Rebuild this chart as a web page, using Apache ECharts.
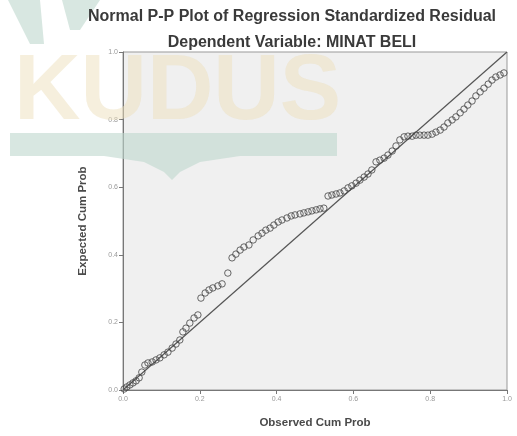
<!DOCTYPE html>
<html>
<head>
<meta charset="utf-8">
<script src="https://cdn.jsdelivr.net/npm/echarts@6/dist/echarts.min.js"></script>
<style>
html,body{margin:0;padding:0;background:#fff;}
#c{width:517px;height:436px;}
</style>
</head>
<body>
<div id="c"></div>
<script>
var titleText = 'Normal P-P Plot of Regression Standardized Residual';
var subtitleText = 'Dependent Variable: MINAT BELI';
var xName = 'Observed Cum Prob';
var yName = 'Expected Cum Prob';
var tickValues = [0.0, 0.2, 0.4, 0.6, 0.8, 1.0];

var observed = [0.003,0.010,0.018,0.026,0.034,0.042,0.049,0.057,0.065,0.076,0.086,0.096,0.107,0.117,0.128,0.138,0.148,0.156,0.164,0.174,0.185,0.195,0.203,0.214,0.224,0.234,0.247,0.258,0.273,0.284,0.294,0.305,0.315,0.328,0.339,0.352,0.362,0.372,0.383,0.393,0.404,0.414,0.427,0.438,0.448,0.461,0.471,0.482,0.492,0.503,0.513,0.523,0.534,0.544,0.555,0.565,0.576,0.586,0.596,0.607,0.617,0.628,0.638,0.648,0.659,0.669,0.680,0.690,0.701,0.711,0.721,0.732,0.742,0.753,0.763,0.773,0.784,0.794,0.805,0.815,0.826,0.836,0.846,0.857,0.867,0.878,0.888,0.898,0.909,0.919,0.930,0.940,0.951,0.961,0.971,0.982,0.992];
var expected = [0.003,0.009,0.015,0.021,0.027,0.036,0.053,0.074,0.080,0.083,0.089,0.095,0.104,0.112,0.124,0.136,0.148,0.172,0.183,0.198,0.213,0.222,0.272,0.287,0.296,0.302,0.308,0.314,0.346,0.391,0.402,0.414,0.423,0.429,0.444,0.456,0.464,0.473,0.479,0.488,0.497,0.503,0.509,0.515,0.518,0.521,0.524,0.527,0.530,0.533,0.536,0.538,0.574,0.577,0.580,0.583,0.589,0.598,0.604,0.612,0.621,0.630,0.639,0.651,0.675,0.680,0.686,0.695,0.707,0.722,0.740,0.749,0.751,0.751,0.754,0.754,0.754,0.754,0.757,0.763,0.769,0.778,0.790,0.799,0.808,0.820,0.831,0.843,0.855,0.870,0.882,0.893,0.905,0.917,0.926,0.932,0.938];
var refLine = [[0,0],[1,1]];

var points = observed.map(function(v,i){return [v, expected[i]];});

var chart = echarts.init(document.getElementById('c'), null, {renderer:'canvas'});
var font = '"Liberation Sans", Arial, sans-serif';
var option = {
  animation:false,
  backgroundColor:'#ffffff',
  title:[
    {text:titleText, left:287, top:4, textAlign:'center',
     textStyle:{fontFamily:font, fontSize:16, fontWeight:'bold', color:'#3a3a3a'}},
    {text:subtitleText, left:287, top:30, textAlign:'center',
     textStyle:{fontFamily:font, fontSize:16, fontWeight:'bold', color:'#3a3a3a'}}
  ],
  graphic:[
    {type:'text', z:1, silent:true, left:14, top:48,
     style:{text:'KUDUS', fontFamily:font, fontWeight:'bold', fontSize:92, fill:'rgba(238,224,188,0.5)'}},
    {type:'polygon', z:1, silent:true,
     shape:{points:[[10,133],[337,133],[337,156],[240,156],[200,162],[180,172],[172,180],[164,172],[144,162],[104,156],[10,156]]},
     style:{fill:'rgba(190,215,205,0.6)'}},
    {type:'polygon', z:1, silent:true,
     shape:{points:[[8,0],[40,0],[44,44],[30,44]]},
     style:{fill:'rgba(190,215,205,0.6)'}},
    {type:'polygon', z:1, silent:true,
     shape:{points:[[62,0],[100,0],[80,30],[70,30]]},
     style:{fill:'rgba(190,215,205,0.6)'}}
  ],
  grid:{left:123, right:10, top:52, bottom:46, show:true, backgroundColor:'#f0f0f0', borderColor:'#999999', borderWidth:1},
  xAxis:{type:'value', min:0, max:1, interval:0.2,
    name:xName, nameLocation:'middle', nameGap:27,
    nameTextStyle:{fontFamily:font, fontSize:11.5, fontWeight:'bold', color:'#4a4a4a'},
    axisLine:{show:true, lineStyle:{color:'#777', width:1}},
    axisTick:{show:true, inside:false, length:4, lineStyle:{color:'#777'}},
    splitLine:{show:false},
    axisLabel:{fontFamily:font, fontSize:7, color:'#999', margin:6, formatter:function(v){return v.toFixed(1);}}
  },
  yAxis:{type:'value', min:0, max:1, interval:0.2,
    name:yName, nameLocation:'middle', nameGap:34,
    nameTextStyle:{fontFamily:font, fontSize:11.5, fontWeight:'bold', color:'#4a4a4a'},
    axisLine:{show:true, lineStyle:{color:'#777', width:1}},
    axisTick:{show:true, inside:false, length:4, lineStyle:{color:'#777'}},
    splitLine:{show:false},
    axisLabel:{fontFamily:font, fontSize:7, color:'#999', margin:5, formatter:function(v){return v.toFixed(1);}}
  },
  series:[
    {type:'line', data:refLine, z:3, symbol:'none', silent:true,
     lineStyle:{color:'#555', width:1.2}},
    {type:'scatter', data:points, z:4, symbol:'circle', symbolSize:6.5,
     itemStyle:{color:'rgba(0,0,0,0)', borderColor:'#444', borderWidth:1}}
  ]
};
chart.setOption(option);
</script>
</body>
</html>
